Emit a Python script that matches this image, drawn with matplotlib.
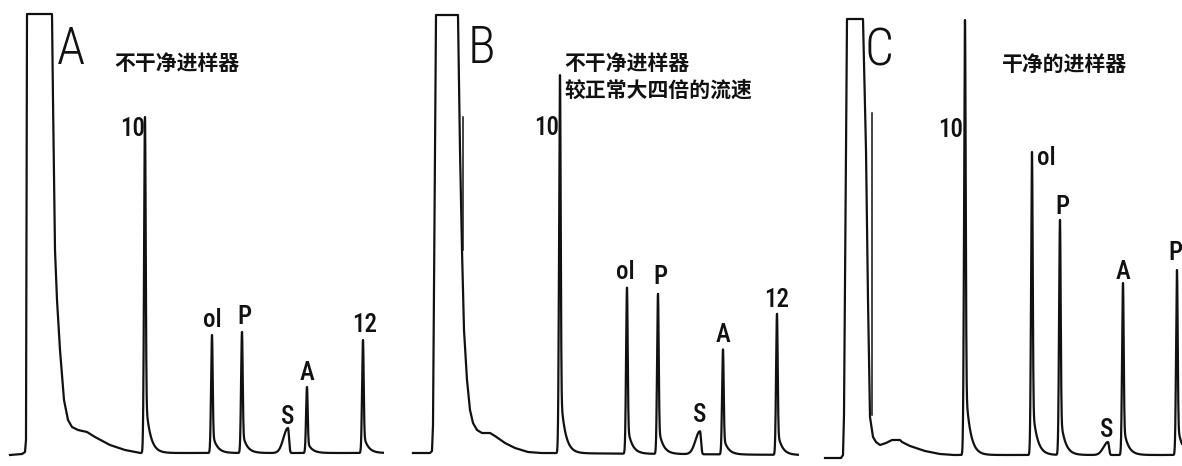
import numpy as np
import matplotlib.pyplot as plt

# three GC traces; x = position along the chart paper, y = detector signal (same units)
panel_letters = ["A", "B", "C"]
panel_notes = [["不干净进样器"],
               ["不干净进样器", "较正常大四倍的流速"],
               ["干净的进样器"]]

# solvent front + tail
solvent_x_a = [10, 22, 25, 26, 27, 52, 53, 55, 57, 60, 64, 68, 72, 78, 87, 95, 110, 125, 140]
solvent_h_a = [0, 1, 3, 15, 441, 441, 355, 205, 155, 105, 55, 35, 28, 25, 23, 18, 10, 5, 2]
solvent_x_b = [13, 30, 32, 33, 36, 58, 60, 62, 64, 67, 70, 73, 77, 82, 90, 95, 105, 115, 128, 140]
solvent_h_b = [2, 2, 4, 30, 440, 440, 305, 205, 125, 75, 45, 32, 25, 22, 22, 19, 12, 7, 3, 2]
solvent_x_c = [25, 41, 43, 44, 47, 63, 66, 68, 70, 73, 76, 80, 86, 92, 100, 102, 110, 125, 140, 153]
solvent_h_c = [-3, -3, 0, 40, 436, 436, 305, 155, 38, 18, 13, 10, 12, 15, 15, 13, 9, 4, 1, 0]

# second pen stroke beside the solvent front (x, h_low, h_high)
ghost_b = (63, 205, 338)
ghost_c = (72, 40, 342)

# resolved peaks
peak_names_a = ["10", "ol", "P", "S", "A", "12"]
peak_pos_a = [145, 212, 242, 288, 307, 363]
peak_top_a = [338, 120, 123, 27, 68, 115]
peak_names_b = ["10", "ol", "P", "S", "A", "12"]
peak_pos_b = [160, 227, 258, 300, 323, 377]
peak_top_b = [380, 168, 162, 25, 107, 143]
peak_names_c = ["10", "ol", "P", "S", "A", "P"]
peak_pos_c = [165, 232, 260, 308, 323, 377]
peak_top_c = [435, 303, 235, 13, 172, 185]

baseline_a = (2, 2)
baseline_b = (2, 0)
baseline_c = (0, 0)
trace_end = [383, 398, 382]

# peak shape: left width, right width, tail fraction, tail length
shape_sharp = (0.9, 0.7, 0.18, 4.5)
shape_broad = (4.5, 1.0, 0.0, 1.0)

# label layout (x, y) per panel
label_xy = [
    [(133, 326), (212, 135), (244, 138), (288, 38), (307, 82), (365, 130)],
    [(147, 327), (225, 183), (260, 178), (300, 40), (323, 120), (377, 155)],
    [(151, 325), (237, 297), (262, 248), (307, 25), (323, 183), (375, 202)],
]
letter_xy = [(71, 405), (81, 406), (79, 404)]
note_xy = [(114, 392), (164, 392), (202, 391)]
panel_left = [0, 400, 800]
panel_width = [400, 400, 382]

W, H = 1182, 466


def peak(x, pos, shape):
    wl, wr, f, tau = shape
    d = x - pos
    left = np.exp(-0.5 * (d / wl) ** 2)
    right = (1 - f) * np.exp(-0.5 * (d / wr) ** 2) + f * np.exp(-np.clip(d, 0, None) / tau)
    return np.where(d < 0, left, right)


def trace(sx, sh, base, names, pos, top, x_end):
    x = np.arange(sx[-1], x_end, 0.1)
    b = np.linspace(base[0], base[1], len(x))
    y = b.copy()
    for n, p, t in zip(names, pos, top):
        shp = shape_broad if n == "S" else shape_sharp
        y += (t - base[0]) * peak(x, p, shp)
    return np.concatenate([sx, x]), np.concatenate([sh, y])


solvents = [(solvent_x_a, solvent_h_a), (solvent_x_b, solvent_h_b), (solvent_x_c, solvent_h_c)]
peaks = [(peak_names_a, peak_pos_a, peak_top_a),
         (peak_names_b, peak_pos_b, peak_top_b),
         (peak_names_c, peak_pos_c, peak_top_c)]
baselines = [baseline_a, baseline_b, baseline_c]
ghosts = [None, ghost_b, ghost_c]

ink = "#111111"
fig = plt.figure(figsize=(W / 100, H / 100), dpi=100)

for i in range(3):
    ax = fig.add_axes([panel_left[i] / W, 0, panel_width[i] / W, 1])
    ax.set_xlim(0, panel_width[i])
    ax.set_ylim(-11, 455)
    ax.axis("off")

    names, pos, top = peaks[i]
    x, y = trace(solvents[i][0], solvents[i][1], baselines[i], names, pos, top, trace_end[i])
    ax.plot(x, y, color=ink, lw=1.6, solid_joinstyle="round")

    if ghosts[i] is not None:
        gx, g0, g1 = ghosts[i]
        ax.plot([gx, gx], [g0, g1], color=ink, lw=1.1)

    for n, (lx, ly) in zip(names, label_xy[i]):
        ha = "left" if (i == 2 and n == "ol") else "center"
        ax.text(lx, ly, n, ha=ha, va="center", fontsize=18, color=ink,
                fontweight="medium",
                family=["Roboto Condensed", "Liberation Sans Narrow", "DejaVu Sans"])

    lx, ly = letter_xy[i]
    ax.text(lx, ly, panel_letters[i], ha="center", va="center", fontsize=37,
            color=ink, fontweight="light",
            family=["Roboto Condensed", "Roboto", "DejaVu Sans"])

    nx, ny = note_xy[i]
    for k, line in enumerate(panel_notes[i]):
        ax.text(nx, ny - 27 * k, line, ha="left", va="center", fontsize=15,
                color=ink, fontweight="bold",
                family=["Noto Sans CJK SC", "DejaVu Sans"])

fig.savefig("out.png", dpi=100, facecolor="white")
